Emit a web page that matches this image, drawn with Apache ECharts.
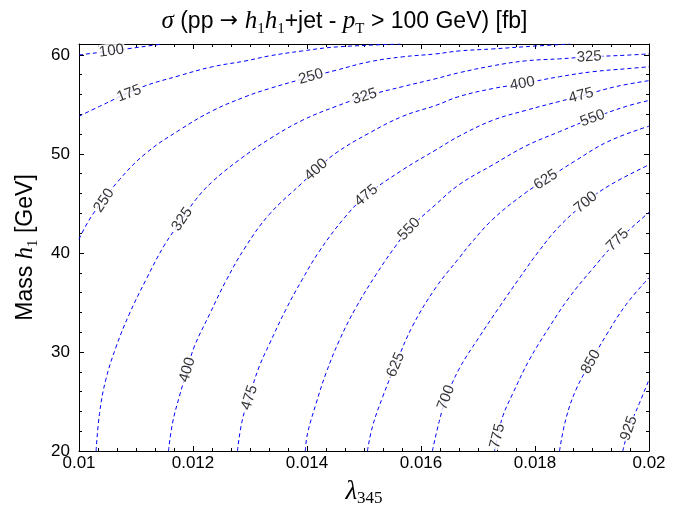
<!DOCTYPE html>
<html><head><meta charset="utf-8">
<script src="https://cdn.jsdelivr.net/npm/echarts@6/dist/echarts.min.js"></script>
<style>html,body{margin:0;padding:0;background:#fff}#c{width:689px;height:512px}</style>
</head><body><div id="c"></div>
<script>
// ---- data ----
const xTickLabels = ['0.01', '0.012', '0.014', '0.016', '0.018', '0.02'];
const yTickLabels = ['20', '30', '40', '50', '60'];
const levels = [100, 175, 250, 325, 400, 475, 550, 625, 700, 775, 850, 925];

const c100 = [[0.01000,60.0],[0.01057,60.4],[0.01146,61.1]];
const c175 = [[0.01000,53.8],[0.01036,54.8],[0.01108,56.7],[0.01176,57.9],[0.01234,58.8],[0.01293,59.4],[0.01334,59.9],[0.01392,60.4],[0.01451,60.8],[0.01564,61.1]];
const c250 = [[0.01000,41.4],[0.01023,43.8],[0.01071,47.4],[0.01118,50.1],[0.01176,52.4],[0.01234,54.35],[0.01293,55.8],[0.01334,56.6],[0.01407,57.8],[0.01451,58.45],[0.01509,59.3],[0.01567,59.8],[0.01626,60.1],[0.01667,60.4],[0.01725,60.6],[0.01802,60.9],[0.01862,61.1]];
const c325 = [[0.01030,20.0],[0.01036,23.8],[0.01047,27.2],[0.01065,30.5],[0.01088,33.8],[0.01118,37.35],[0.01150,40.8],[0.01181,43.4],[0.01205,45.4],[0.01234,47.2],[0.01281,49.4],[0.01334,51.5],[0.01392,53.4],[0.01451,54.8],[0.01501,55.8],[0.01568,56.8],[0.01626,57.6],[0.01667,58.2],[0.01726,58.9],[0.01784,59.4],[0.01843,59.6],[0.01895,59.8],[0.01960,59.97],[0.02000,60.1]];
const c400 = [[0.01157,20.0],[0.01164,22.8],[0.01176,25.5],[0.01190,28.2],[0.01202,30.5],[0.01229,33.8],[0.01258,37.2],[0.01292,40.6],[0.01334,43.9],[0.01392,47.1],[0.01416,48.4],[0.01451,50.1],[0.01509,52.1],[0.01568,53.8],[0.01626,54.9],[0.01667,55.8],[0.01726,56.6],[0.01778,57.1],[0.01843,57.8],[0.01901,58.3],[0.01960,58.6],[0.02000,58.8]];
const c475 = [[0.01278,20.0],[0.01286,23.0],[0.01300,25.7],[0.01316,28.5],[0.01334,30.8],[0.01363,34.3],[0.01392,37.35],[0.01422,40.2],[0.01465,43.5],[0.01504,45.8],[0.01568,48.4],[0.01626,50.4],[0.01667,51.8],[0.01726,53.4],[0.01784,54.4],[0.01843,55.3],[0.01881,55.85],[0.01942,56.8],[0.02000,57.4]];
const c550 = [[0.01397,20.0],[0.01401,21.8],[0.01416,24.8],[0.01433,27.8],[0.01457,31.2],[0.01486,34.5],[0.01521,37.8],[0.01553,40.5],[0.01579,42.4],[0.01626,44.9],[0.01667,46.9],[0.01726,48.9],[0.01784,50.8],[0.01843,52.25],[0.01901,53.6],[0.01960,54.8],[0.02000,55.4]];
const c625 = [[0.01506,20.0],[0.01515,22.5],[0.01533,25.5],[0.01556,28.8],[0.01585,32.6],[0.01626,36.5],[0.01667,39.5],[0.01685,40.8],[0.01726,43.4],[0.01784,46.1],[0.01819,47.4],[0.01872,49.35],[0.01930,51.3],[0.02000,52.8]];
const c700 = [[0.01620,20.0],[0.01632,23.0],[0.01644,25.3],[0.01667,28.3],[0.01702,31.5],[0.01737,34.5],[0.01772,37.4],[0.01807,40.2],[0.01843,42.7],[0.01889,45.1],[0.01930,46.8],[0.02000,48.9]];
const c775 = [[0.01729,20.0],[0.01736,21.8],[0.01744,23.6],[0.01761,25.8],[0.01790,29.2],[0.01825,32.5],[0.01860,35.5],[0.01901,38.4],[0.01941,41.0],[0.02000,44.1]];
const c850 = [[0.01843,20.0],[0.01854,23.2],[0.01872,26.2],[0.01898,29.0],[0.01925,31.7],[0.01960,34.8],[0.02000,37.5]];
const c925 = [[0.01954,20.0],[0.01965,22.3],[0.01983,24.8],[0.02000,27.2]];

// contour labels: [level, x, y]
const contourLabels = [
  [100,0.01057,60.4],[175,0.01088,56.1],[250,0.01044,45.3],[250,0.01407,57.8],
  [325,0.01181,43.4],[325,0.01501,55.8],[325,0.01895,59.8],
  [400,0.01190,28.2],[400,0.01416,48.4],[400,0.01778,57.1],
  [475,0.01299,25.4],[475,0.01504,45.8],[475,0.01881,55.9],
  [550,0.01579,42.4],[550,0.01901,53.6],
  [625,0.01556,28.7],[625,0.01819,47.4],
  [700,0.01644,25.4],[700,0.01889,45.1],
  [775,0.01734,21.5],[775,0.01945,41.3],
  [850,0.01898,29.0],[925,0.01965,22.3]
];

const contours = {100:c100,175:c175,250:c250,325:c325,400:c400,475:c475,550:c550,625:c625,700:c700,775:c775,850:c850,925:c925};

// ---- chart ----
const LINE_COLOR = '#0000ff';
const SANS = 'Liberation Sans';
const SERIF = 'Liberation Serif';

function xFmt(v) {
  const i = Math.round((v - 0.01) / 0.002);
  return (Math.abs(v - (0.01 + 0.002 * i)) < 1e-9 && xTickLabels[i]) ? xTickLabels[i] : '';
}
function yFmt(v) {
  const i = Math.round((v - 20) / 10);
  return (Math.abs(v - (20 + 10 * i)) < 1e-6 && yTickLabels[i]) ? yTickLabels[i] : '';
}

const blackLine = {show: true, onZero: false, lineStyle: {color: '#000', width: 1}};

const xBase = {type: 'value', min: 0.01, max: 0.02, interval: 0.002, splitLine: {show: false}, axisLine: blackLine,
  axisTick: {show: true, inside: true, length: 5, lineStyle: {color: '#000'}},
  minorTick: {show: true, splitNumber: 6, length: 3, lineStyle: {color: '#000'}}};

const yMajor = {type: 'value', min: 20, max: 61.1, interval: 10, splitLine: {show: false}, axisLine: blackLine,
  axisTick: {show: true, inside: true, length: 5, lineStyle: {color: '#000'}}};
const yMinor = {type: 'value', min: 20, max: 61.1, interval: 2, splitLine: {show: false}, axisLine: {show: false},
  axisLabel: {show: false}, axisTick: {show: true, inside: true, length: 3, lineStyle: {color: '#000'}}};

const series = levels.map(lv => ({
  type: 'line', id: 'c' + lv, name: String(lv), xAxisIndex: 0, yAxisIndex: 0,
  data: contours[lv], showSymbol: false, smooth: 0.4, clip: true, silent: true,
  lineStyle: {color: LINE_COLOR, width: 1, type: [4, 3]}, z: 2
}));

function labelItems(rots) {
  return contourLabels.map((l, k) => ({
    value: [l[1], l[2]], name: String(l[0]),
    label: {rotate: rots ? rots[k] : 0}
  }));
}

series.push({
  type: 'scatter', id: 'lbl', xAxisIndex: 0, yAxisIndex: 0, symbol: 'circle', symbolSize: 1,
  itemStyle: {color: 'rgba(0,0,0,0)'}, silent: true, z: 10, clip: false,
  label: {show: true, position: 'inside', formatter: p => p.name, color: '#000', fontFamily: SANS,
    fontSize: 15, backgroundColor: '#fff', padding: [0, 1]},
  data: labelItems(null)
});

const subStyle = {fontFamily: SERIF, fontSize: 15, lineHeight: 20, verticalAlign: 'bottom', color: '#000'};

const option = {
  animation: false,
  backgroundColor: '#fff',
  title: {
    left: 'center', top: 1,
    text: '{m|σ} (pp {a|→} {m|h}{s|1}{m|h}{s|1}+jet - {m|p}{s|T} > 100 GeV) [fb]',
    textStyle: {fontFamily: SANS, fontSize: 23, fontWeight: 'normal', color: '#000', lineHeight: 31,
      rich: {
        m: {fontFamily: SERIF, fontStyle: 'italic', fontSize: 25, lineHeight: 31, color: '#000'},
        a: {fontFamily: 'DejaVu Sans', fontSize: 22, lineHeight: 31, color: '#000'},
        s: subStyle
      }}
  },
  grid: {left: 79, right: 40, top: 44, bottom: 57, containLabel: false},
  xAxis: [
    Object.assign({}, xBase, {position: 'bottom',
      axisLabel: {show: true, formatter: xFmt, color: '#000', fontFamily: SANS, fontSize: 17, margin: 4},
      name: '{m|λ}{s|345}', nameLocation: 'middle', nameGap: 26,
      nameTextStyle: {fontFamily: SERIF, fontSize: 26, color: '#000', lineHeight: 30,
        rich: {m: {fontFamily: SERIF, fontStyle: 'italic', fontSize: 27, lineHeight: 30, color: '#000'},
               s: {fontFamily: SERIF, fontSize: 17, lineHeight: 20, verticalAlign: 'bottom', color: '#000'}}}}),
    Object.assign({}, xBase, {position: 'top', axisLabel: {show: false}})
  ],
  yAxis: [
    Object.assign({}, yMajor, {position: 'left',
      axisLabel: {show: true, formatter: yFmt, color: '#000', fontFamily: SANS, fontSize: 17, margin: 9},
      name: '{n|Mass }{m|h}{s|1}{n| [GeV]}', nameLocation: 'middle', nameGap: 36,
      nameTextStyle: {fontFamily: SANS, fontSize: 23, color: '#000', lineHeight: 30,
        rich: {n: {fontFamily: SANS, fontSize: 23, lineHeight: 30, color: '#000'},
               m: {fontFamily: SERIF, fontStyle: 'italic', fontSize: 25, lineHeight: 30, color: '#000'},
               s: subStyle}}}),
    Object.assign({}, yMajor, {position: 'right', axisLabel: {show: false}}),
    Object.assign({}, yMinor, {position: 'left'}),
    Object.assign({}, yMinor, {position: 'right'})
  ],
  series: series
};

const chart = echarts.init(document.getElementById('c'), null, {renderer: 'canvas', width: 689, height: 512});
chart.setOption(option);

// rotate each contour label along its line, using the library's own coordinate conversion
const finder = {xAxisIndex: 0, yAxisIndex: 0};
const rots = contourLabels.map(l => {
  const pts = contours[l[0]].map(p => chart.convertToPixel(finder, p));
  const lp = chart.convertToPixel(finder, [l[1], l[2]]);
  let best = 0, bd = Infinity;
  pts.forEach((p, i) => { const d = (p[0]-lp[0])**2 + (p[1]-lp[1])**2; if (d < bd) { bd = d; best = i; } });
  const a = pts[Math.max(best - 1, 0)], b = pts[Math.min(best + 1, pts.length - 1)];
  return Math.atan2(-(b[1] - a[1]), b[0] - a[0]) * 180 / Math.PI;
});
chart.setOption({series: [{id: 'lbl', data: labelItems(rots)}]});
</script>
</body></html>
